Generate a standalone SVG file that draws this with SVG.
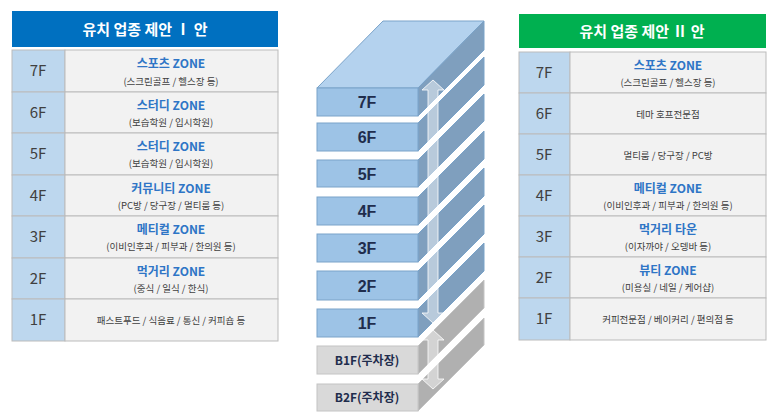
<svg xmlns="http://www.w3.org/2000/svg" width="773" height="420" viewBox="0 0 773 420">
<style>
text{font-family:"Noto Sans CJK KR","Noto Sans",sans-serif;text-anchor:middle}
.hd{fill:#fff;font-size:15px;font-weight:bold}
.lc{fill:#bdd7ee;stroke:#bbb;stroke-width:1}
.cc{fill:#f2f2f2;stroke:#bbb;stroke-width:1}
.fl{font-size:15px;fill:#404040}
.t1{font-size:12px;fill:#2e75c6;font-weight:bold}
.t2{font-size:9.5px;fill:#404040}
.ff{fill:#9dc3e6;stroke:#7aa3c9}
.fs{fill:#7f9fbe;stroke:#7aa3c9}
.ft{fill:#b4d2ee;stroke:#7aa3c9}
.gf{fill:#d9d9d9;stroke:#c4c4c4}
.gs{fill:#b0b0b0;stroke:#c4c4c4}
.bl{font-size:16px;font-weight:bold;fill:#1f2d4d;font-family:"Liberation Sans",sans-serif}
.gl{font-size:12px;font-weight:bold;fill:#1f2d4d}
</style>
<g id="left-table">
<rect x="12" y="11" width="266" height="36" fill="#0070c0"/>
<text class="hd" x="145" y="35">유치 업종 제안 Ⅰ 안</text>
<g id="L7"><rect class="lc" x="12" y="50" width="53" height="42"/><rect class="cc" x="65" y="50" width="213" height="42"/><text class="fl" x="38" y="76">7F</text><text class="t1" x="171" y="68">스포츠 ZONE</text><text class="t2" x="171" y="85">(스크린골프 / 헬스장 등)</text></g>
<g id="L6"><rect class="lc" x="12" y="92" width="53" height="41"/><rect class="cc" x="65" y="92" width="213" height="41"/><text class="fl" x="38" y="118">6F</text><text class="t1" x="171" y="110">스터디 ZONE</text><text class="t2" x="171" y="126">(보습학원 / 입시학원)</text></g>
<g id="L5"><rect class="lc" x="12" y="133" width="53" height="42"/><rect class="cc" x="65" y="133" width="213" height="42"/><text class="fl" x="38" y="159">5F</text><text class="t1" x="171" y="151">스터디 ZONE</text><text class="t2" x="171" y="167">(보습학원 / 입시학원)</text></g>
<g id="L4"><rect class="lc" x="12" y="175" width="53" height="41"/><rect class="cc" x="65" y="175" width="213" height="41"/><text class="fl" x="38" y="201">4F</text><text class="t1" x="171" y="193">커뮤니티 ZONE</text><text class="t2" x="171" y="209">(PC방 / 당구장 / 멀티룸 등)</text></g>
<g id="L3"><rect class="lc" x="12" y="216" width="53" height="42"/><rect class="cc" x="65" y="216" width="213" height="42"/><text class="fl" x="38" y="242">3F</text><text class="t1" x="171" y="234">메티컬 ZONE</text><text class="t2" x="171" y="250">(이비인후과 / 피부과 / 한의원 등)</text></g>
<g id="L2"><rect class="lc" x="12" y="258" width="53" height="41"/><rect class="cc" x="65" y="258" width="213" height="41"/><text class="fl" x="38" y="284">2F</text><text class="t1" x="171" y="276">먹거리 ZONE</text><text class="t2" x="171" y="292">(중식 / 일식 / 한식)</text></g>
<g id="L1"><rect class="lc" x="12" y="299" width="53" height="42"/><rect class="cc" x="65" y="299" width="213" height="42"/><text class="fl" x="38" y="325">1F</text><text class="t2" x="171" y="324">패스트푸드 / 식음료 / 통신 / 커피숍 등</text></g>
</g>
<g id="right-table">
<rect x="519" y="14" width="247" height="34" fill="#00b050"/>
<text class="hd" x="642" y="37">유치 업종 제안 Ⅱ 안</text>
<g id="R7"><rect class="lc" x="519" y="52" width="51" height="41"/><rect class="cc" x="570" y="52" width="196" height="41"/><text class="fl" x="544" y="78">7F</text><text class="t1" x="668" y="70">스포츠 ZONE</text><text class="t2" x="668" y="86">(스크린골프 / 헬스장 등)</text></g>
<g id="R6"><rect class="lc" x="519" y="93" width="51" height="41"/><rect class="cc" x="570" y="93" width="196" height="41"/><text class="fl" x="544" y="119">6F</text><text class="t2" x="668" y="118">테마 호프전문점</text></g>
<g id="R5"><rect class="lc" x="519" y="134" width="51" height="41"/><rect class="cc" x="570" y="134" width="196" height="41"/><text class="fl" x="544" y="160">5F</text><text class="t2" x="668" y="159">멀티룸 / 당구장 / PC방</text></g>
<g id="R4"><rect class="lc" x="519" y="175" width="51" height="41"/><rect class="cc" x="570" y="175" width="196" height="41"/><text class="fl" x="544" y="201">4F</text><text class="t1" x="668" y="193">메티컬 ZONE</text><text class="t2" x="668" y="209">(이비인후과 / 피부과 / 한의원 등)</text></g>
<g id="R3"><rect class="lc" x="519" y="216" width="51" height="41"/><rect class="cc" x="570" y="216" width="196" height="41"/><text class="fl" x="544" y="242">3F</text><text class="t1" x="668" y="234">먹거리 타운</text><text class="t2" x="668" y="250">(이자까야 / 오뎅바 등)</text></g>
<g id="R2"><rect class="lc" x="519" y="257" width="51" height="41"/><rect class="cc" x="570" y="257" width="196" height="41"/><text class="fl" x="544" y="283">2F</text><text class="t1" x="668" y="275">뷰티 ZONE</text><text class="t2" x="668" y="291">(미용실 / 네일 / 케어샵)</text></g>
<g id="R1"><rect class="lc" x="519" y="298" width="51" height="42"/><rect class="cc" x="570" y="298" width="196" height="42"/><text class="fl" x="544" y="324">1F</text><text class="t2" x="668" y="323">커피전문점 / 베이커리 / 편의점 등</text></g>
</g>
<g id="building">
<g id="B2F"><path class="gs" d="M418 384L484 318V345L418 411Z"/><rect class="gf" x="317" y="384" width="101" height="27"/><text class="gl" x="367" y="402">B2F(주차장)</text></g>
<g id="B1F"><path class="gs" d="M418 346L484 280V308L418 374Z"/><rect class="gf" x="317" y="346" width="101" height="28"/><text class="gl" x="367" y="365">B1F(주차장)</text></g>
<g id="F1"><path class="fs" d="M418 309L484 243V271L418 337Z"/><rect class="ff" x="317" y="309" width="101" height="28"/><text class="bl" x="367" y="329">1F</text></g>
<g id="F2"><path class="fs" d="M418 271L484 205V234L418 300Z"/><rect class="ff" x="317" y="271" width="101" height="29"/><text class="bl" x="367" y="292">2F</text></g>
<g id="F3"><path class="fs" d="M418 234L484 168V196L418 262Z"/><rect class="ff" x="317" y="234" width="101" height="28"/><text class="bl" x="367" y="254">3F</text></g>
<g id="F4"><path class="fs" d="M418 197L484 131V159L418 225Z"/><rect class="ff" x="317" y="197" width="101" height="28"/><text class="bl" x="367" y="217">4F</text></g>
<g id="F5"><path class="fs" d="M418 160L484 94V121L418 187Z"/><rect class="ff" x="317" y="160" width="101" height="27"/><text class="bl" x="367" y="180">5F</text></g>
<g id="F6"><path class="fs" d="M418 123L484 57V85L418 151Z"/><rect class="ff" x="317" y="123" width="101" height="28"/><text class="bl" x="367" y="143">6F</text></g>
<g id="F7"><path class="ft" d="M317 88L383 21H484L418 88Z"/><path class="fs" d="M418 88L484 21V50L418 116Z"/><rect class="ff" x="317" y="88" width="101" height="28"/><text class="bl" x="367" y="108">7F</text></g>
</g>
<g id="connectors" fill="#ffffff" fill-opacity="0.45" stroke="#ffffff" stroke-opacity="0.8">
<path d="M433 80L444 90H438V313H444L433 323L422 313H428V90H422Z"/>
<path d="M433 330L444 340H438V379H444L433 389L422 379H428V340H422Z"/>
</g>
</svg>
